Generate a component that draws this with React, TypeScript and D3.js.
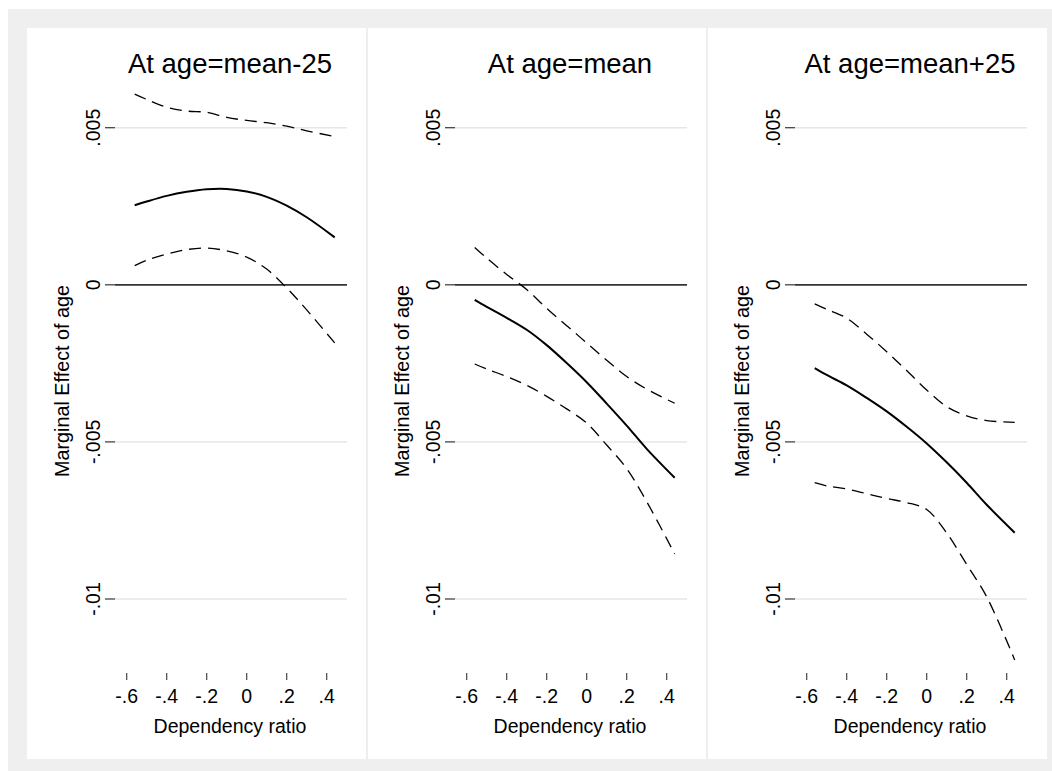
import React from "react";
import * as d3 from "d3";

const panelTitles = ["At age=mean-25", "At age=mean", "At age=mean+25"];
const xTicks = [-0.6, -0.4, -0.2, 0, 0.2, 0.4];
const xTickLabels = ["-.6", "-.4", "-.2", "0", ".2", ".4"];
const yTicks = [0.005, 0, -0.005, -0.01];
const yTickLabels = [".005", "0", "-.005", "-.01"];
const xTitle = "Dependency ratio";
const yTitle = "Marginal Effect of age";

const depRatio = [-0.56, -0.5, -0.4, -0.3, -0.2, -0.1, 0, 0.1, 0.2, 0.3, 0.44];

// Panel 1: age = mean-25
const p1Effect = [0.00253, 0.00265, 0.00283, 0.00296, 0.00304, 0.00305, 0.00297, 0.0028, 0.00252, 0.00215, 0.00151];
const p1Upper = [0.00607, 0.0059, 0.00565, 0.00553, 0.00549, 0.00533, 0.00523, 0.00516, 0.00505, 0.0049, 0.00472];
const p1Lower = [0.00061, 0.00078, 0.00098, 0.00112, 0.00117, 0.00108, 0.00088, 0.0005, -0.0001, -0.0008, -0.00185];

// Panel 2: age = mean
const p2Effect = [-0.00048, -0.0007, -0.00105, -0.00143, -0.00192, -0.00249, -0.0031, -0.00378, -0.00448, -0.00522, -0.00614];
const p2Upper = [0.00119, 0.00085, 0.00033, -0.00015, -0.00075, -0.0013, -0.00185, -0.0024, -0.00292, -0.00332, -0.00377];
const p2Lower = [-0.00252, -0.00268, -0.00292, -0.0032, -0.00355, -0.00395, -0.0044, -0.0051, -0.00585, -0.0069, -0.00857];

// Panel 3: age = mean+25
const p3Effect = [-0.00265, -0.00287, -0.0032, -0.0036, -0.00403, -0.00452, -0.00505, -0.00565, -0.0063, -0.007, -0.00789];
const p3Upper = [-0.00061, -0.00078, -0.00106, -0.00157, -0.00213, -0.00273, -0.00335, -0.00388, -0.00417, -0.00432, -0.00438];
const p3Lower = [-0.0063, -0.0064, -0.0065, -0.00665, -0.0068, -0.00693, -0.00715, -0.0079, -0.0089, -0.00993, -0.01194];

const panels = [
  { title: panelTitles[0], effect: p1Effect, upper: p1Upper, lower: p1Lower },
  { title: panelTitles[1], effect: p2Effect, upper: p2Upper, lower: p2Lower },
  { title: panelTitles[2], effect: p3Effect, upper: p3Upper, lower: p3Lower },
];

const FONT = "'Liberation Sans', Arial, Helvetica, sans-serif";
const PANEL_STEP = 340;

export default function App() {
  const x = d3.scaleLinear().domain([-0.6, 0.4]).range([126.7, 326.7]);
  const y = d3.scaleLinear().domain([-0.01, 0.005]).range([599, 127.7]);
  const plotLeft = 115;
  const plotRight = 347;
  const plotCx = 230;

  const line = d3
    .line<number>()
    .x((_, i) => x(depRatio[i]))
    .y((d) => y(d))
    .curve(d3.curveCatmullRom);

  return (
    <svg
      width={1052}
      height={771}
      style={{ position: "absolute", left: 0, top: 0 }}
      fontFamily={FONT}
    >
      <rect x={0} y={0} width={1052} height={771} fill="#ffffff" />
      <rect x={8} y={9} width={1044} height={762} fill="#efefef" />
      <rect x={27} y={28} width={1020} height={731} fill="#ffffff" />
      <line x1={367} x2={367} y1={28} y2={759} stroke="#e8e8e8" strokeWidth={1.5} />
      <line x1={707} x2={707} y1={28} y2={759} stroke="#e8e8e8" strokeWidth={1.5} />
      {panels.map((p, pi) => (
        <g key={pi} transform={`translate(${pi * PANEL_STEP},0)`}>
          <text x={plotCx} y={72.7} textAnchor="middle" fontSize={27.5} fill="#000">
            {p.title}
          </text>
          {yTicks.map((t, i) => (
            <g key={i}>
              {t !== 0 && (
                <line x1={plotLeft} x2={plotRight} y1={y(t)} y2={y(t)} stroke="#e6e6e6" strokeWidth={1.5} />
              )}
              <line x1={105} x2={plotLeft} y1={y(t)} y2={y(t)} stroke="#444" strokeWidth={1.3} />
              <text
                transform={`translate(100,${y(t)}) rotate(-90)`}
                textAnchor="middle"
                fontSize={19.5}
                fill="#000"
              >
                {yTickLabels[i]}
              </text>
            </g>
          ))}
          <line x1={plotLeft} x2={plotRight} y1={y(0)} y2={y(0)} stroke="#333" strokeWidth={1.8} />
          {xTicks.map((t, i) => (
            <g key={i}>
              <line x1={x(t)} x2={x(t)} y1={673} y2={680} stroke="#444" strokeWidth={1.2} />
              <text x={x(t)} y={703.3} textAnchor="middle" fontSize={19.5} fill="#000">
                {xTickLabels[i]}
              </text>
            </g>
          ))}
          <text x={plotCx} y={732.7} textAnchor="middle" fontSize={19.5} fill="#000">
            {xTitle}
          </text>
          <text
            transform={`translate(69,381) rotate(-90)`}
            textAnchor="middle"
            fontSize={19.8}
            fill="#000"
          >
            {yTitle}
          </text>
          <path d={line(p.upper) || ""} fill="none" stroke="#000" strokeWidth={1.3} strokeDasharray="12,7" />
          <path d={line(p.lower) || ""} fill="none" stroke="#000" strokeWidth={1.3} strokeDasharray="12,7" />
          <path d={line(p.effect) || ""} fill="none" stroke="#000" strokeWidth={2} />
        </g>
      ))}
    </svg>
  );
}
